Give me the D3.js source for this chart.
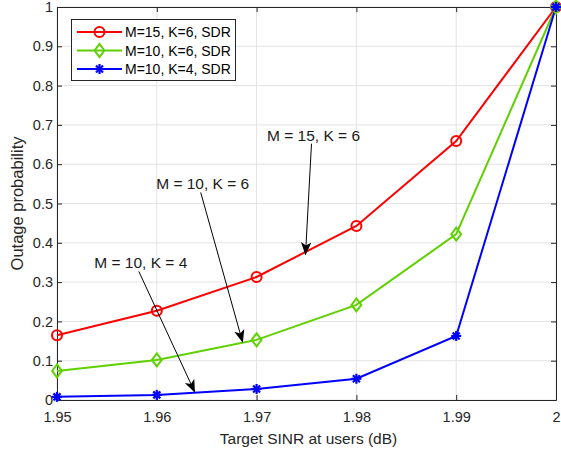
<!DOCTYPE html>
<html><head><meta charset="utf-8">
<script src="https://cdn.jsdelivr.net/npm/d3@7"></script>
<style>body{margin:0;background:#fff;} text{font-family:"Liberation Sans",Arial,sans-serif;}</style>
</head><body>
<svg id="c" width="561" height="455"></svg>
<script>
const xValues = [1.95, 1.96, 1.97, 1.98, 1.99, 2.0];
const seriesNames = ["M=15, K=6, SDR", "M=10, K=6, SDR", "M=10, K=4, SDR"];
const redValues = [0.165, 0.227, 0.313, 0.443, 0.659, 1.0];
const greenValues = [0.074, 0.102, 0.153, 0.242, 0.422, 1.0];
const blueValues = [0.008, 0.013, 0.028, 0.054, 0.163, 1.0];
const xTicks = [1.95, 1.96, 1.97, 1.98, 1.99, 2.0];
const xTickLabels = ["1.95", "1.96", "1.97", "1.98", "1.99", "2"];
const yTicks = [0, 0.1, 0.2, 0.3, 0.4, 0.5, 0.6, 0.7, 0.8, 0.9, 1];
const yTickLabels = ["0", "0.1", "0.2", "0.3", "0.4", "0.5", "0.6", "0.7", "0.8", "0.9", "1"];
const annotations = [
  {label: "M = 15, K = 6", tx: 1.9757, ty: 0.675, hx: 1.9749, hy: 0.37},
  {label: "M = 10, K = 6", tx: 1.9646, ty: 0.551, hx: 1.9686, hy: 0.147},
  {label: "M = 10, K = 4", tx: 1.9584, ty: 0.35, hx: 1.9638, hy: 0.02}
];

const svg = d3.select("#c");
const L = 57, R = 556, T = 7, B = 400;
const x = d3.scaleLinear().domain([1.95, 2]).range([L, R]);
const y = d3.scaleLinear().domain([0, 1]).range([B, T]);
const axisCol = "#262626";

// grid
const g = svg.append("g");
g.selectAll(".gx").data(xTicks).join("line")
  .attr("x1", d => x(d)).attr("x2", d => x(d)).attr("y1", T).attr("y2", B)
  .attr("stroke", "#e3e3e3").attr("stroke-width", 1);
g.selectAll(".gy").data(yTicks).join("line")
  .attr("x1", L).attr("x2", R).attr("y1", d => y(d)).attr("y2", d => y(d))
  .attr("stroke", "#e3e3e3").attr("stroke-width", 1);

// axes
const xAxisB = d3.axisBottom(x).tickValues(xTicks).tickFormat((d,i) => xTickLabels[i]).tickSizeInner(-5).tickSizeOuter(0).tickPadding(12);
const yAxisL = d3.axisLeft(y).tickValues(yTicks).tickFormat((d,i) => yTickLabels[i]).tickSizeInner(-5).tickSizeOuter(0).tickPadding(4);
const xAxisT = d3.axisTop(x).tickValues(xTicks).tickFormat("").tickSizeInner(-5).tickSizeOuter(0);
const yAxisR = d3.axisRight(y).tickValues(yTicks).tickFormat("").tickSizeInner(-5).tickSizeOuter(0);
function style(sel){
  sel.selectAll("path").attr("stroke", axisCol);
  sel.selectAll("line").attr("stroke", axisCol);
  sel.selectAll("text").attr("fill", axisCol).style("font-size", "14.5px").style("font-family", "'Liberation Sans',Arial,sans-serif");
}
svg.append("g").attr("transform", `translate(0,${B})`).call(xAxisB).call(style);
svg.append("g").attr("transform", `translate(${L},0)`).call(yAxisL).call(style);
svg.append("g").attr("transform", `translate(0,${T})`).call(xAxisT).call(style);
svg.append("g").attr("transform", `translate(${R},0)`).call(yAxisR).call(style);

// axis labels
svg.append("text").attr("x", (L+R)/2 + 2).attr("y", 444).attr("text-anchor", "middle")
  .attr("fill", axisCol).style("font-size", "15.5px").text("Target SINR at users (dB)");
svg.append("text").attr("transform", `translate(23,${(T+B)/2}) rotate(-90)`).attr("text-anchor", "middle")
  .attr("fill", axisCol).style("font-size", "16.5px").text("Outage probability");

const series = [
  {name: seriesNames[0], vals: redValues, color: "#ff0000", marker: "circle"},
  {name: seriesNames[1], vals: greenValues, color: "#5fd000", marker: "diamond"},
  {name: seriesNames[2], vals: blueValues, color: "#0000ff", marker: "star"}
];
const line = d3.line().x((d,i) => x(xValues[i])).y(d => y(d));

function drawMarker(sel, type, cx, cy, color){
  if (type === "circle") {
    sel.append("circle").attr("cx", cx).attr("cy", cy).attr("r", 5)
      .attr("fill", "none").attr("stroke", color).attr("stroke-width", 2);
  } else if (type === "diamond") {
    const s = 6.5;
    sel.append("path").attr("d", `M${cx},${cy-s}L${cx+s*0.75},${cy}L${cx},${cy+s}L${cx-s*0.75},${cy}Z`)
      .attr("fill", "none").attr("stroke", color).attr("stroke-width", 2);
  } else {
    const s = 5;
    const gg = sel.append("g").attr("stroke", color).attr("stroke-width", 2.2);
    gg.append("line").attr("x1", cx-s).attr("x2", cx+s).attr("y1", cy).attr("y2", cy);
    gg.append("line").attr("x1", cx).attr("x2", cx).attr("y1", cy-s).attr("y2", cy+s);
    gg.append("line").attr("x1", cx-s*0.7).attr("x2", cx+s*0.7).attr("y1", cy-s*0.7).attr("y2", cy+s*0.7);
    gg.append("line").attr("x1", cx-s*0.7).attr("x2", cx+s*0.7).attr("y1", cy+s*0.7).attr("y2", cy-s*0.7);
  }
}

const plot = svg.append("g");
series.forEach(s => {
  plot.append("path").attr("d", line(s.vals)).attr("fill", "none")
    .attr("stroke", s.color).attr("stroke-width", 2);
});
series.forEach(s => {
  s.vals.forEach((v,i) => drawMarker(plot, s.marker, x(xValues[i]), y(v), s.color));
});

// annotations
const defs = svg.append("defs");
defs.append("marker").attr("id", "ah").attr("viewBox", "0 0 20 20").attr("refX", 19).attr("refY", 10)
  .attr("markerWidth", 13).attr("markerHeight", 13).attr("markerUnits", "userSpaceOnUse").attr("orient", "auto")
  .append("path").attr("d", "M0,2 L20,10 L0,18 L5,10 Z").attr("fill", "#000");
annotations.forEach(a => {
  const tx = x(a.tx), ty = y(a.ty);
  svg.append("text").attr("x", tx).attr("y", ty + 6).attr("text-anchor", "middle")
    .attr("fill", "#1a1a1a").style("font-size", "15.5px").text(a.label);
  svg.append("line").attr("x1", tx - 2).attr("y1", ty + 9).attr("x2", x(a.hx)).attr("y2", y(a.hy))
    .attr("stroke", "#000").attr("stroke-width", 1).attr("marker-end", "url(#ah)");
});

// legend
const lg = svg.append("g");
lg.append("rect").attr("x", 71.5).attr("y", 19.5).attr("width", 164).attr("height", 61)
  .attr("fill", "#fff").attr("stroke", "#262626").attr("stroke-width", 1);
series.forEach((s, i) => {
  const yy = 32 + i * 18.5;
  lg.append("line").attr("x1", 77).attr("x2", 122).attr("y1", yy).attr("y2", yy)
    .attr("stroke", s.color).attr("stroke-width", 2);
  drawMarker(lg, s.marker, 99.5, yy, s.color);
  lg.append("text").attr("x", 125).attr("y", yy + 5).attr("fill", "#000")
    .style("font-size", "14px").text(s.name);
});
</script>
</body></html>
